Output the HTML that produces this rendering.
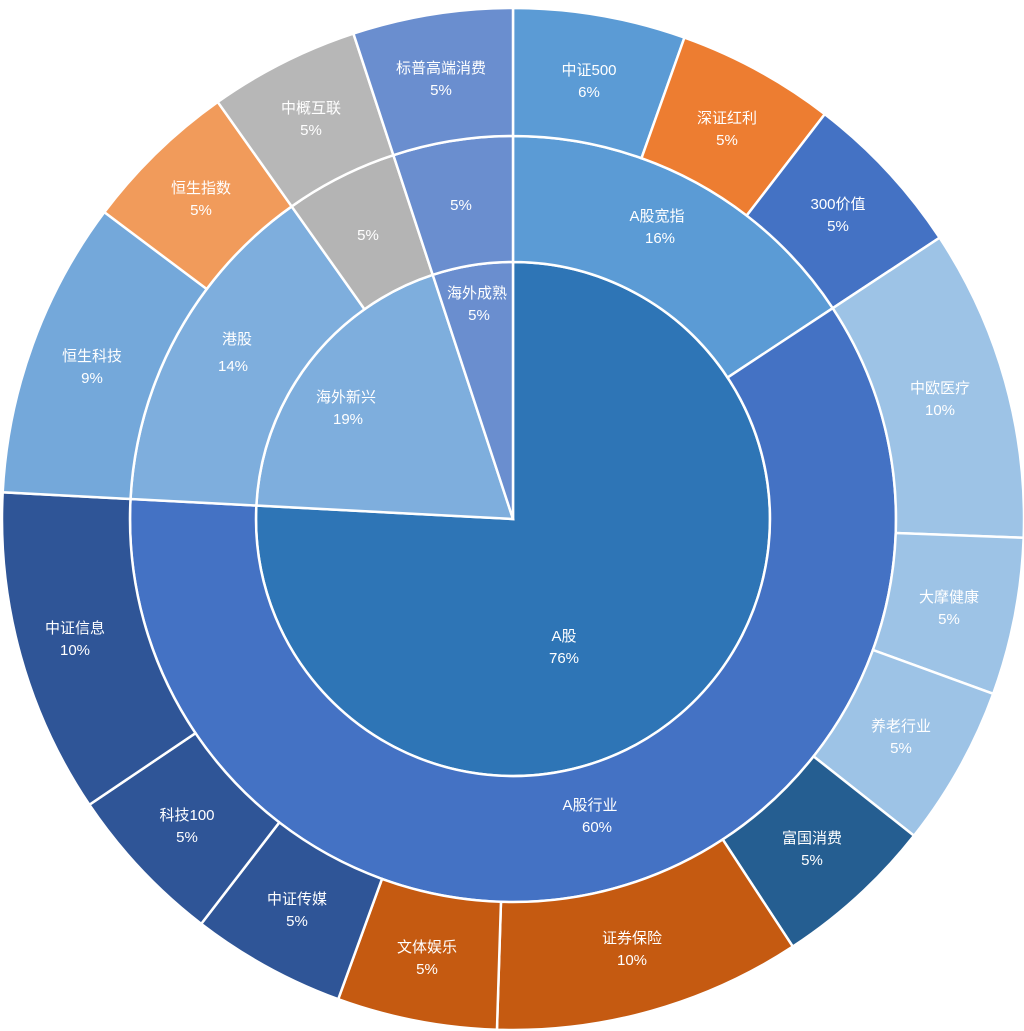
<!DOCTYPE html>
<html><head><meta charset="utf-8"><style>
html,body{margin:0;padding:0;background:#fff;width:1024px;height:1031px;overflow:hidden}
text{font-family:"Liberation Sans","Noto Sans CJK SC",sans-serif;font-size:15px;fill:#fff;text-anchor:middle}
</style></head><body>
<svg id="s" width="1024" height="1031" viewBox="0 0 1024 1031">
<g id="arcs"></g>
<g>
<text x="589" y="75">中证500</text><text x="589" y="97">6%</text>
<text x="727" y="123">深证红利</text><text x="727" y="145">5%</text>
<text x="838" y="209">300价值</text><text x="838" y="231">5%</text>
<text x="657" y="221">A股宽指</text><text x="660" y="243">16%</text>
<text x="940" y="393">中欧医疗</text><text x="940" y="415">10%</text>
<text x="949" y="602">大摩健康</text><text x="949" y="624">5%</text>
<text x="901" y="731">养老行业</text><text x="901" y="753">5%</text>
<text x="812" y="843">富国消费</text><text x="812" y="865">5%</text>
<text x="632" y="943">证券保险</text><text x="632" y="965">10%</text>
<text x="427" y="952">文体娱乐</text><text x="427" y="974">5%</text>
<text x="297" y="904">中证传媒</text><text x="297" y="926">5%</text>
<text x="187" y="820">科技100</text><text x="187" y="842">5%</text>
<text x="75" y="633">中证信息</text><text x="75" y="655">10%</text>
<text x="590" y="810">A股行业</text><text x="597" y="832">60%</text>
<text x="564" y="641">A股</text><text x="564" y="663">76%</text>
<text x="92" y="361">恒生科技</text><text x="92" y="383">9%</text>
<text x="201" y="193">恒生指数</text><text x="201" y="215">5%</text>
<text x="311" y="113">中概互联</text><text x="311" y="135">5%</text>
<text x="441" y="73">标普高端消费</text><text x="441" y="95">5%</text>
<text x="237" y="344">港股</text><text x="233" y="371">14%</text>
<text x="368" y="240">5%</text>
<text x="461" y="210">5%</text>
<text x="477" y="298">海外成熟</text><text x="479" y="320">5%</text>
<text x="346" y="402">海外新兴</text><text x="348" y="424">19%</text>
</g>
</svg>
<script>
var cx=513,cy=519,g=document.getElementById('arcs');
function P(a,r){a=(a-90)*Math.PI/180;return [cx+r*Math.cos(a),cy+r*Math.sin(a)];}
function arc(a0,a1,r0,r1,c){var p1=P(a0,r1),p2=P(a1,r1),p3=P(a1,r0),p4=P(a0,r0),l=(a1-a0)>180?1:0;
var d=r0>0?'M'+p1+'A'+r1+','+r1+' 0 '+l+' 1 '+p2+'L'+p3+'A'+r0+','+r0+' 0 '+l+' 0 '+p4+'Z'
:'M'+cx+','+cy+'L'+p1+'A'+r1+','+r1+' 0 '+l+' 1 '+p2+'Z';
var e=document.createElementNS('http://www.w3.org/2000/svg','path');e.setAttribute('d',d);e.setAttribute('fill',c);e.setAttribute('stroke','#fff');e.setAttribute('stroke-width','2.5');g.appendChild(e);}
function ring(list,r0,r1){var a=0;list.forEach(function(it){arc(a,it[0],r0,r1,it[1]);a=it[0];});}
ring([[273,'#2E75B6'],[341.8,'#7EAEDD'],[360,'#6A8ECF']],0,257);
ring([[56.6,'#5B9BD5'],[273,'#4472C4'],[324.7,'#7EAEDD'],[341.8,'#B4B4B4'],[360,'#6A8ECF']],257,383);
ring([[19.6,'#5B9BD5'],[37.6,'#ED7D31'],[56.6,'#4472C4'],[92.1,'#9DC3E6'],[110,'#9DC3E6'],[128.3,'#9DC3E6'],[146.8,'#255E91'],[181.8,'#C55A11'],[200,'#C55A11'],[217.6,'#2F5597'],[236,'#2F5597'],[273,'#2F5597'],[306.9,'#74A8DA'],[324.7,'#F19B5B'],[341.8,'#B7B7B7'],[360,'#6A8ECF']],383,511);
</script>
</body></html>
